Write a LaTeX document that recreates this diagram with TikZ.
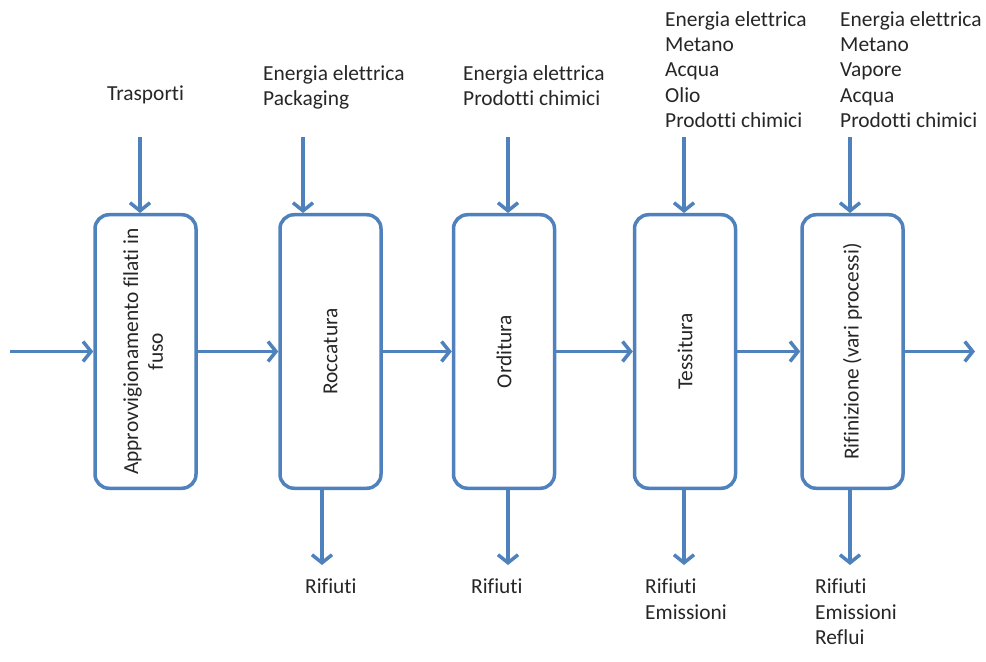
\documentclass[tikz,border=0pt]{standalone}
\usepackage{fontspec}
\setmainfont{Carlito}[Ligatures=NoCommon]
\usepackage{graphicx}
\usetikzlibrary{arrows.meta,positioning}
\definecolor{flowblue}{RGB}{79,129,189}
\definecolor{inktext}{RGB}{38,38,38}
\begin{document}
\begin{tikzpicture}[x=1bp,y=-1bp]
    \tikzset{phase/.style = {draw=flowblue,line width=3.5bp,rounded corners=14bp,minimum width=101bp,minimum height=273.5bp,inner sep=0pt,text=inktext,font=\fontsize{21.5}{25}\selectfont},
      flow/.style = {draw=flowblue,line width=3.5bp,-{Straight Barb[length=8bp,width=20bp,line width=3.5bp]}},
      res/.style = {anchor=north west,inner sep=0pt,align=left,text=inktext,font=\fontsize{21.5}{25.5}\selectfont}}
    \def\ymid{351.5}
    \useasboundingbox (0,0) rectangle (986,662);
    % phases
    \node[phase] (appr) at (145.5,\ymid) {\rotatebox{90}{\begin{tabular}{@{}c@{}}Approvvigionamento filati in\\fuso\end{tabular}}};
    \node[phase] (rocc) at (330.5,\ymid) {\rotatebox{90}{Roccatura}};
    \node[phase] (ordi) at (504,\ymid) {\rotatebox{90}{Orditura}};
    \node[phase] (tess) at (685,\ymid) {\rotatebox{90}{Tessitura}};
    \node[phase] (rifi) at (852.5,\ymid) {\rotatebox{90}{Rifinizione (vari processi)}};
    % main line
    \coordinate (start) at (10,\ymid);
    \coordinate (stop) at (975,\ymid);
    \draw[flow] (start) -- (appr.west);
    \draw[flow] (appr.east) -- (rocc.west);
    \draw[flow] (rocc.east) -- (ordi.west);
    \draw[flow] (ordi.east) -- (tess.west);
    \draw[flow] (tess.east) -- (rifi.west);
    \draw[flow] (rifi.east) -- (stop);
    % inputs
    \node[res] (in1) at (107,86) {Trasporti};
    \node[res] (in2) at (263,65) {Energia elettrica\\Packaging};
    \node[res] (in3) at (463,65) {Energia elettrica\\Prodotti chimici};
    \node[res] (in4) at (665,11) {Energia elettrica\\Metano\\Acqua\\Olio\\Prodotti chimici};
    \node[res] (in5) at (840,11) {Energia elettrica\\Metano\\Vapore\\Acqua\\Prodotti chimici};
    \foreach \n/\x in {appr/140,rocc/303,ordi/508,tess/684,rifi/850}{
      \coordinate (top-\n) at (\x,137);
      \draw[flow] (top-\n) -- (top-\n |- \n.north);
    }
    % outputs
    \foreach \n/\x in {rocc/322,ordi/508,tess/684,rifi/850}{
      \coordinate (bot-\n) at (\x,565);
      \draw[flow] (bot-\n |- \n.south) -- (bot-\n);
    }
    \node[res] (out2) at (305,579) {Rifiuti};
    \node[res] (out3) at (471,579) {Rifiuti};
    \node[res] (out4) at (645,579) {Rifiuti\\Emissioni};
    \node[res] (out5) at (815,579) {Rifiuti\\Emissioni\\Reflui};
\end{tikzpicture}
\end{document}
